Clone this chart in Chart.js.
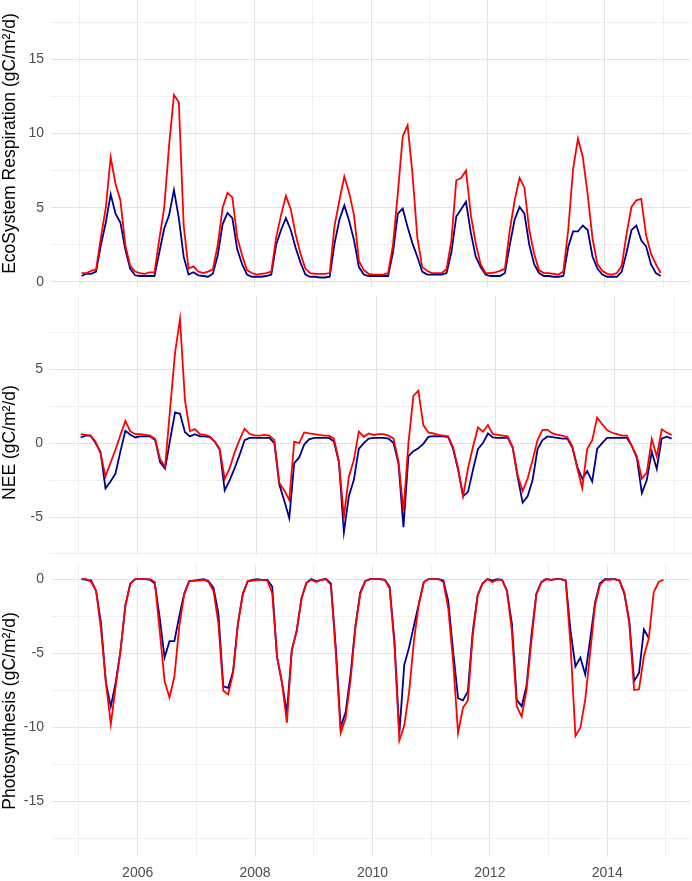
<!DOCTYPE html>
<html>
<head>
<meta charset="utf-8">
<script src="https://cdn.jsdelivr.net/npm/chart.js@4.4.0/dist/chart.umd.min.js"></script>
<style>
html, body { margin: 0; padding: 0; background: #fff; }
#wrap { position: relative; width: 692px; height: 881px; }
canvas { position: absolute; left: 0; }
</style>
</head>
<body>
<div id="wrap">
  <canvas id="chartResp" width="692" height="287" style="top:0px"></canvas>
  <canvas id="chartNee" width="692" height="259" style="top:296px"></canvas>
  <canvas id="chartPhoto" width="692" height="316" style="top:565px"></canvas>
</div>
<script>
// === Datos (mensuales, 2005-2014) ===
const startYear = 2005;
const nMonths = 120;
// posición de cada mes a mitad de mes, en años decimales
const monthX = Array.from({ length: nMonths }, (_, i) => startYear + (i + 0.5) / 12);

// Respiración del ecosistema
const respRed = [
  0.6, 0.6, 0.75, 0.85, 3.0, 5.0, 8.4, 6.6, 5.5, 2.5, 1.1, 0.7,
  0.6, 0.55, 0.65, 0.65, 2.9, 5.0, 9.2, 12.6, 12.1, 3.8, 0.9, 1.05,
  0.7, 0.6, 0.7, 0.85, 2.5, 5.0, 6.0, 5.7, 3.0, 1.8, 0.8, 0.6,
  0.5, 0.55, 0.6, 0.7, 3.0, 4.5, 5.8, 4.9, 3.2, 1.9, 0.9, 0.6,
  0.55, 0.55, 0.55, 0.6, 3.8, 5.5, 7.1, 6.0, 4.5, 1.4, 0.8, 0.55,
  0.5, 0.5, 0.5, 0.6, 2.5, 6.0, 9.8, 10.55, 7.3, 3.0, 1.0, 0.75,
  0.6, 0.6, 0.6, 0.85, 2.8, 6.85, 7.0, 7.5, 4.5, 2.6, 1.2, 0.6,
  0.6, 0.65, 0.75, 0.9, 3.5, 5.5, 7.0, 6.35, 3.5, 1.9, 0.8, 0.6,
  0.6, 0.55, 0.5, 0.7, 3.5, 7.6, 9.65, 8.4, 5.9, 2.9, 1.2, 0.75,
  0.55, 0.5, 0.6, 1.1, 3.25, 5.05, 5.5, 5.6, 3.15, 1.9, 1.2, 0.6
];
const respBlue = [
  0.4, 0.55, 0.55, 0.7, 2.5, 4.0, 5.9, 4.6, 4.0, 2.2, 0.9, 0.45,
  0.4, 0.4, 0.4, 0.4, 2.0, 3.6, 4.5, 6.2, 4.3, 1.7, 0.5, 0.65,
  0.45, 0.4, 0.35, 0.55, 1.8, 3.9, 4.65, 4.3, 2.2, 1.2, 0.5, 0.35,
  0.35, 0.35, 0.4, 0.5, 2.5, 3.5, 4.3, 3.5, 2.3, 1.3, 0.5, 0.35,
  0.35, 0.3, 0.3, 0.35, 2.6, 4.2, 5.15, 4.1, 2.8, 1.0, 0.5, 0.4,
  0.4, 0.4, 0.4, 0.4, 2.0, 4.6, 4.95, 3.7, 2.6, 1.7, 0.7, 0.5,
  0.5, 0.5, 0.5, 0.6, 2.0, 4.4, 4.9, 5.4, 3.3, 1.7, 1.0, 0.5,
  0.4, 0.4, 0.4, 0.6, 2.5, 4.2, 5.05, 4.6, 2.5, 1.2, 0.6, 0.4,
  0.4, 0.35, 0.35, 0.4, 2.35, 3.4, 3.4, 3.8, 3.5, 1.7, 0.9, 0.5,
  0.35, 0.35, 0.35, 0.7, 2.0, 3.5, 3.8, 2.8, 2.4, 1.2, 0.6, 0.4
];

// NEE
const neeRed = [
  0.6, 0.55, 0.5, 0.1, -0.7, -2.25, -1.35, -0.45, 0.55, 1.5, 0.8, 0.6,
  0.6, 0.55, 0.5, 0.27, -1.1, -1.6, 2.3, 6.1, 8.4, 2.9, 0.8, 0.95,
  0.6, 0.55, 0.45, 0.1, -0.4, -2.43, -1.7, -0.63, 0.23, 0.97, 0.63, 0.52,
  0.5, 0.55, 0.5, 0.2, -2.7, -3.2, -3.85, 0.1, 0.0, 0.72, 0.65, 0.6,
  0.55, 0.5, 0.5, 0.3, -1.24, -4.98, -2.27, -1.15, 0.77, 0.43, 0.65, 0.55,
  0.6, 0.6, 0.5, 0.3, -1.26, -4.6, 0.0, 3.2, 3.55, 1.22, 0.72, 0.65,
  0.55, 0.5, 0.45, -0.3, -1.7, -3.58, -1.7, -0.25, 1.06, 0.77, 1.22, 0.6,
  0.55, 0.5, 0.45, -0.3, -2.2, -3.25, -2.4, -1.15, 0.2, 0.9, 0.9, 0.65,
  0.55, 0.5, 0.4, -0.2, -1.7, -3.05, -0.4, 0.2, 1.73, 1.28, 0.88, 0.7,
  0.6, 0.5, 0.5, -0.2, -0.9, -2.4, -2.0, 0.28, -0.9, 0.92, 0.72, 0.55
];
const neeBlue = [
  0.38, 0.5, 0.5, 0.0, -0.6, -3.06, -2.6, -2.07, -0.56, 0.83, 0.56, 0.38,
  0.45, 0.45, 0.45, 0.2, -1.3, -1.73, 0.2, 2.07, 1.98, 0.74, 0.45, 0.6,
  0.45, 0.45, 0.4, 0.1, -0.45, -3.2, -2.5, -1.7, -0.8, 0.2, 0.35, 0.35,
  0.35, 0.35, 0.35, 0.0, -2.8, -3.9, -5.07, -1.35, -0.97, -0.1, 0.25, 0.35,
  0.35, 0.35, 0.35, 0.1, -1.3, -6.03, -3.6, -2.5, -0.4, 0.0, 0.3, 0.35,
  0.35, 0.35, 0.3, 0.0, -1.4, -5.68, -0.88, -0.55, -0.35, -0.05, 0.42, 0.47,
  0.45, 0.45, 0.4, -0.4, -1.8, -3.6, -3.3, -1.8, -0.4, 0.0, 0.65, 0.38,
  0.35, 0.35, 0.35, -0.3, -2.3, -4.03, -3.6, -2.5, -0.4, 0.2, 0.45, 0.4,
  0.35, 0.3, 0.3, -0.3, -1.6, -2.4, -1.9, -2.6, -0.4, 0.0, 0.35, 0.35,
  0.35, 0.35, 0.35, -0.2, -1.0, -3.38, -2.5, -0.58, -1.75, 0.3, 0.43, 0.3
];

// Fotosíntesis (azul sin datos oct-dic 2014)
const photoRed = [
  0.0, 0.0, -0.2, -0.8, -3.4, -7.0, -9.8, -7.25, -4.8, -1.75, -0.3, 0.0,
  0.0, 0.0, 0.0, -0.2, -3.5, -6.9, -8.0, -6.6, -3.2, -1.05, -0.15, -0.1,
  -0.1, -0.05, -0.2, -0.8, -3.0, -7.55, -7.8, -6.35, -3.0, -1.0, -0.15, -0.1,
  -0.05, -0.05, -0.1, -0.95, -5.3, -7.0, -9.7, -4.8, -3.55, -1.3, -0.25, -0.05,
  -0.2, -0.05, 0.0, -0.4, -5.0, -10.4, -9.4, -6.9, -3.3, -1.0, -0.15, 0.0,
  0.0, 0.0, -0.05, -0.6, -4.5, -10.9, -9.9, -7.6, -4.1, -1.65, -0.2, 0.0,
  0.0, 0.0, -0.2, -2.0, -5.6, -10.4, -8.7, -8.2, -3.8, -1.1, -0.3, 0.0,
  -0.2, -0.05, -0.05, -0.8, -3.5, -8.6, -9.3, -7.5, -4.2, -1.05, -0.25, 0.0,
  -0.05, 0.0, 0.0, -0.1, -4.5, -10.6, -10.05, -8.15, -5.0, -1.75, -0.4, -0.05,
  -0.05, 0.0, -0.1, -0.9, -3.0, -7.5, -7.45, -5.2, -4.0, -0.9, -0.2, -0.05
];
const photoBlue = [
  0.0, -0.05, -0.1, -0.8, -3.0, -7.0, -8.6, -7.0, -4.8, -1.75, -0.3, 0.0,
  0.0, 0.0, -0.05, -0.3, -2.6, -5.3, -4.2, -4.2, -2.5, -1.0, -0.15, -0.1,
  -0.05, 0.0, -0.15, -0.6, -2.3, -7.25, -7.35, -6.25, -3.0, -1.0, -0.15, -0.05,
  0.0, -0.05, -0.05, -0.5, -5.3, -7.0, -9.05, -4.8, -3.5, -1.3, -0.25, 0.0,
  -0.15, -0.05, 0.0, -0.3, -4.6, -10.0, -9.0, -6.5, -3.2, -0.9, -0.15, 0.0,
  0.0, 0.0, -0.05, -0.5, -4.2, -10.4, -5.8, -4.6, -3.1, -1.65, -0.2, 0.0,
  0.0, 0.0, -0.1, -1.5, -4.9, -8.05, -8.2, -7.6, -3.55, -1.1, -0.3, 0.0,
  -0.1, 0.0, -0.05, -0.8, -3.0, -8.15, -8.6, -7.2, -3.8, -1.0, -0.2, 0.0,
  -0.05, 0.0, 0.0, -0.1, -3.5, -5.9, -5.3, -6.45, -4.1, -1.6, -0.3, 0.0,
  0.0, 0.0, -0.1, -1.0, -2.8, -6.9, -6.35, -3.4, -4.0, null, null, null
];

// === Estilo ===
const FONT = "'Liberation Sans', Arial, sans-serif";
const MAJOR = '#e3e3e3';
const MINOR = '#efefef';
const RED = '#ff0000';
const BLUE = '#00008b';

function drawPanel(id, o) {
  new Chart(document.getElementById(id), {
    type: 'line',
    data: {
      datasets: [
        { data: monthX.map((x, i) => ({ x: x, y: o.red[i] })), borderColor: RED, order: 1 },
        { data: monthX.map((x, i) => ({ x: x, y: o.blue[i] })), borderColor: BLUE, order: 2 }
      ]
    },
    options: {
      responsive: false,
      animation: false,
      layout: { padding: { left: 0, right: o.right, top: 0, bottom: 0 } },
      elements: {
        line: { borderWidth: 1.8, tension: 0, fill: false },
        point: { radius: 0, hoverRadius: 0 }
      },
      plugins: { legend: { display: false }, tooltip: { enabled: false } },
      scales: {
        x: {
          type: 'linear',
          min: o.xmin,
          max: o.xmax,
          border: { display: false },
          grid: { color: c => (c.tick && c.tick.value % 2 === 0) ? MAJOR : MINOR, lineWidth: 1, drawTicks: false },
          ticks: {
            display: o.xLabels,
            stepSize: 1,
            includeBounds: false,
            autoSkip: false,
            maxRotation: 0,
            padding: 8,
            color: '#4d4d4d',
            font: { family: FONT, size: 14 },
            callback: v => (v % 2 === 0 ? String(v) : '')
          },
          afterFit: s => { s.height = o.xh; s.paddingLeft = 0; s.paddingRight = 0; }
        },
        y: {
          type: 'linear',
          min: o.ymin,
          max: o.ymax,
          border: { display: false },
          grid: { color: c => (c.tick && c.tick.value % 5 === 0) ? MAJOR : MINOR, lineWidth: 1, drawTicks: false },
          ticks: {
            stepSize: 2.5,
            includeBounds: false,
            padding: o.pad,
            color: '#4d4d4d',
            font: { family: FONT, size: 14 },
            callback: v => (v % 5 === 0 ? String(v) : '')
          },
          title: {
            display: true,
            text: o.title,
            color: '#000',
            padding: 0,
            font: { family: FONT, size: 17.5 }
          },
          afterFit: s => { s.width = o.left; s.paddingTop = 0; s.paddingBottom = 0; }
        }
      }
    }
  });
}

// === Gráficas ===
drawPanel('chartResp', {
  red: respRed, blue: respBlue,
  title: 'EcoSystem Respiration (gC/m²/d)',
  xmin: 2004.52, xmax: 2015.46, ymin: -0.34, ymax: 18.99,
  left: 51, right: 2, pad: 7, xh: 0, xLabels: false
});

drawPanel('chartNee', {
  red: neeRed, blue: neeBlue,
  title: 'NEE (gC/m²/d)\u00a0\u00a0\u00a0\u00a0\u00a0\u00a0\u00a0',
  xmin: 2004.51, xmax: 2015.30, ymin: -7.57, ymax: 9.95,
  left: 49, right: 0, pad: 6, xh: 0, xLabels: false
});

drawPanel('chartPhoto', {
  red: photoRed, blue: photoBlue,
  title: 'Photosynthesis (gC/m²/d)',
  xmin: 2004.54, xmax: 2015.41, ymin: -18.78, ymax: 0.95,
  left: 52, right: 2, pad: 8, xh: 24, xLabels: true
});
</script>
</body>
</html>
